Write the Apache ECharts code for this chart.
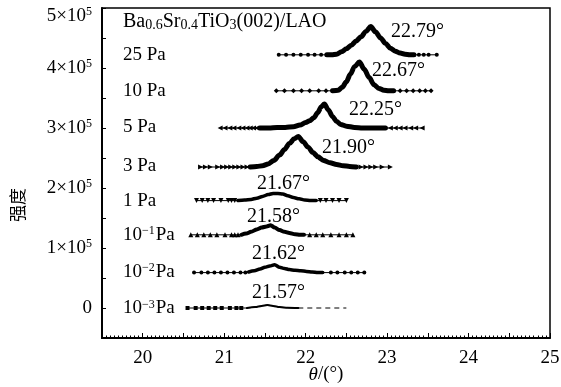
<!DOCTYPE html>
<html><head><meta charset="utf-8">
<script src="https://cdn.jsdelivr.net/npm/echarts/dist/echarts.min.js"></script>
<style>html,body{margin:0;padding:0;background:#fff}#c{width:561px;height:387px}</style>
</head><body><div id="c"></div><script>
// intensities in units of 1e5 (stacked with vertical offsets as drawn)
const x25 = [21.67,21.76,21.85,21.94,22.03,22.11,22.19,22.26,22.32,22.38,22.44,22.50,22.56,22.62,22.68,22.74,22.80,22.86,22.92,22.98,23.04,23.10,23.16,23.22,23.28,23.33,23.39,23.45,23.51,23.61];
const y25 = [4.22,4.22,4.22,4.22,4.22,4.22,4.22,4.22,4.22,4.23,4.27,4.32,4.38,4.45,4.52,4.61,4.69,4.60,4.50,4.41,4.33,4.28,4.25,4.23,4.22,4.22,4.22,4.22,4.22,4.22];
const x10 = [21.64,21.74,21.85,21.95,22.05,22.16,22.25,22.33,22.40,22.45,22.50,22.55,22.60,22.66,22.72,22.78,22.84,22.90,22.96,23.02,23.08,23.16,23.24,23.32,23.40,23.47,23.54];
const y10 = [3.62,3.62,3.62,3.62,3.62,3.62,3.62,3.62,3.63,3.68,3.77,3.90,4.02,4.10,3.98,3.84,3.72,3.66,3.63,3.62,3.62,3.62,3.62,3.62,3.62,3.62,3.62];
const x5 = [20.95,21.01,21.07,21.12,21.18,21.23,21.28,21.32,21.36,21.40,21.44,21.55,21.65,21.75,21.85,21.93,22.00,22.05,22.10,22.15,22.19,22.23,22.28,22.33,22.38,22.43,22.50,22.60,22.70,22.80,22.90,22.98,23.04,23.10,23.16,23.22,23.29,23.35,23.43];
const y5 = [3.0,3.0,3.0,3.0,3.0,3.0,3.0,3.0,3.0,3.0,3.0,3.0,3.01,3.01,3.02,3.05,3.09,3.12,3.17,3.26,3.35,3.40,3.30,3.19,3.11,3.06,3.03,3.01,3.0,3.0,3.0,3.0,3.0,3.0,3.0,3.0,3.0,3.0,3.0];
const x3 = [20.71,20.77,20.83,20.92,20.98,21.03,21.08,21.13,21.18,21.23,21.28,21.32,21.40,21.47,21.54,21.61,21.68,21.74,21.80,21.86,21.91,21.97,22.03,22.09,22.15,22.22,22.30,22.38,22.46,22.54,22.62,22.68,22.74,22.80,22.86,22.94,23.04];
const y3 = [2.35,2.35,2.35,2.35,2.35,2.35,2.35,2.35,2.35,2.35,2.35,2.35,2.36,2.37,2.40,2.46,2.55,2.64,2.74,2.82,2.86,2.77,2.68,2.59,2.52,2.46,2.42,2.39,2.37,2.36,2.35,2.35,2.35,2.35,2.35,2.35,2.35];
const x1 = [20.66,20.73,20.80,20.87,20.96,21.05,21.09,21.13,21.17,21.25,21.33,21.40,21.47,21.54,21.60,21.66,21.72,21.78,21.85,21.92,21.99,22.06,22.13,22.18,22.25,22.33,22.41,22.50];
const y1 = [1.79,1.79,1.79,1.79,1.79,1.79,1.79,1.79,1.79,1.80,1.81,1.83,1.86,1.89,1.91,1.91,1.90,1.87,1.84,1.82,1.80,1.79,1.79,1.79,1.79,1.79,1.79,1.79];
const xm1 = [20.59,20.67,20.75,20.83,20.91,21.01,21.09,21.13,21.17,21.21,21.27,21.33,21.40,21.46,21.52,21.57,21.62,21.68,21.74,21.80,21.87,21.93,21.98,22.05,22.13,22.21,22.31,22.41,22.50,22.58];
const ym1 = [1.22,1.22,1.22,1.22,1.22,1.22,1.22,1.22,1.22,1.22,1.24,1.27,1.31,1.34,1.36,1.38,1.34,1.30,1.27,1.25,1.23,1.22,1.22,1.22,1.22,1.22,1.22,1.22,1.22,1.22];
const xm2 = [20.63,20.72,20.80,20.88,20.96,21.04,21.12,21.20,21.26,21.30,21.37,21.44,21.50,21.56,21.62,21.68,21.74,21.80,21.87,21.94,22.01,22.08,22.15,22.21,22.31,22.39,22.48,22.56,22.64,22.72];
const ym2 = [0.59,0.59,0.59,0.59,0.59,0.59,0.59,0.59,0.59,0.60,0.62,0.65,0.68,0.70,0.72,0.68,0.66,0.64,0.63,0.62,0.61,0.60,0.59,0.59,0.59,0.59,0.59,0.59,0.59,0.59];
const xm3 = [20.55,20.65,20.73,20.81,20.89,20.97,21.07,21.15,21.21,21.28,21.38,21.46,21.53,21.60,21.68,21.78,21.91,22.50];
const ym3 = [0,0,0,0,0,0,0,0,0,0,0.015,0.035,0.05,0.035,0.015,0.005,0,0];
// x-range drawn as merged (dense) trace
const denseFrom = [22.26,22.33,21.44,21.32,21.17,21.21,21.30,21.28];
const denseTo   = [23.33,23.08,22.98,22.62,22.13,21.98,22.21,21.91];
const pressures = ['25 Pa','10 Pa','5 Pa','3 Pa','1 Pa','10{s|−1}Pa','10{s|−2}Pa','10{s|−3}Pa'];
const peakLabels = ['22.79°','22.67°','22.25°','21.90°','21.67°','21.58°','21.62°','21.57°'];
const yTicks = [0,1,2,3,4,5];

const xs = [x25,x10,x5,x3,x1,xm1,xm2,xm3];
const ys = [y25,y10,y5,y3,y1,ym1,ym2,ym3];
const sty = [
  {sym:'circle',rot:0,size:4,w:5},
  {sym:'diamond',rot:0,size:5,w:5},
  {sym:'triangle',rot:90,size:5,w:5},
  {sym:'triangle',rot:-90,size:5,w:5},
  {sym:'triangle',rot:180,size:5,w:3.5},
  {sym:'triangle',rot:0,size:5,w:4},
  {sym:'circle',rot:0,size:4,w:3.5},
  {sym:'rect',rot:0,size:4,w:2}
];
const labelPos = [[123,55.5],[123,91.5],[123,127],[123,166],[123,201],[123,235],[123,272],[123,308.5]];
const peakPos = [[391,32],[372,71],[349,110],[322,148],[257,184],[247,217],[252,254],[252,293]];
const FONT = '"Liberation Serif","Times New Roman",serif';
const TOP = yTicks[yTicks.length-1];

const series = [];
xs.forEach((xa,k)=>{
  const ya = ys[k], s = sty[k];
  const lo = denseFrom[k], hi = denseTo[k];
  const isLast = k === 7;
  const main = [], dense = [], dash = [];
  xa.forEach((x,i)=>{
    const inD = x >= lo && x <= hi;
    if (isLast && x >= hi) dash.push([x, ya[i]]);
    if (!(isLast && x > hi)) main.push({value:[x, ya[i]], symbol: inD ? 'none' : s.sym});
    if (inD) dense.push([x, ya[i]]);
  });
  series.push({type:'line', data:main, symbolSize:s.size, symbolRotate:s.rot, showAllSymbol:true,
    lineStyle:{color:'#000',width:1}, itemStyle:{color:'#000'}, silent:true, z:3});
  series.push({type:'line', data:dense, symbol:'none', smooth:0.3, smoothMonotone:'x',
    lineStyle:{color:'#000',width:s.w,cap:'round',join:'round'}, silent:true, z:4});
  if (dash.length) series.push({type:'line', data:dash, symbol:'none',
    lineStyle:{color:'#000',width:1,type:[5,4]}, silent:true, z:3});
});

const supRich = {s:{fontSize:12, fontFamily:FONT, verticalAlign:'top', padding:[0,0,8,0]}};
const graphic = [];
pressures.forEach((t,k)=>graphic.push({type:'text', x:labelPos[k][0], y:labelPos[k][1],
  style:{text:t, font:'19px '+FONT, fill:'#000', align:'left', verticalAlign:'middle',
    rich:{s:{fontSize:12, fontFamily:FONT, verticalAlign:'top', padding:[0,1,8,0]}}}}));
peakLabels.forEach((t,k)=>graphic.push({type:'text', x:peakPos[k][0], y:peakPos[k][1],
  style:{text:t, font:'20px '+FONT, fill:'#000', align:'left', verticalAlign:'middle'}}));
graphic.push({type:'text', x:123, y:22, style:{text:'Ba{b|0.6}Sr{b|0.4}TiO{b|3}(002)/LAO',
  font:'20px '+FONT, fill:'#000', align:'left', verticalAlign:'middle',
  rich:{b:{fontSize:14, fontFamily:FONT, verticalAlign:'bottom', padding:[6,0,0,0]}}}});
graphic.push({type:'text', x:18, y:205, rotation:Math.PI/2, style:{text:'强度',
  font:'17px "Noto Sans CJK SC"', fill:'#000', align:'center', verticalAlign:'middle'}});
// top tick label, nudged inside the canvas as in the reference
graphic.push({type:'text', x:92, y:16, style:{text:TOP+'×10{s|5}', font:'19px '+FONT, fill:'#000',
  align:'right', verticalAlign:'middle', rich:supRich}});

const chart = echarts.init(document.getElementById('c'), null, {renderer:'canvas'});
chart.setOption({
  animation:false,
  backgroundColor:'#fff',
  grid:{left:102, right:11, top:8, bottom:49, show:true, borderColor:'#000', borderWidth:1.5,
    containLabel:false, outerBoundsMode:'none'},
  xAxis:{type:'value', min:19.5, max:25, interval:0.5,
    name:'{i|θ}/(°)', nameLocation:'middle', nameGap:27, nameMoveOverlap:false,
    nameTextStyle:{fontFamily:FONT, fontSize:19, color:'#000', rich:{i:{fontStyle:'italic', fontFamily:FONT, fontSize:19}}},
    axisLine:{onZero:false, lineStyle:{color:'#000', width:2}},
    axisTick:{inside:true, length:5, lineStyle:{color:'#000'}},
    minorTick:{show:true, splitNumber:10, length:2.5, lineStyle:{color:'#000'}},
    splitLine:{show:false}, minorSplitLine:{show:false},
    axisLabel:{fontFamily:FONT, fontSize:19, color:'#000', margin:11,
      formatter:v=> Math.abs(v-Math.round(v))<1e-9 ? String(Math.round(v)) : ''}
  },
  yAxis:{type:'value', min:-0.5, max:5, interval:0.5,
    axisLine:{show:true, onZero:false, lineStyle:{color:'#000', width:2}},
    axisTick:{inside:true, length:4, lineStyle:{color:'#000'}},
    splitLine:{show:false},
    axisLabel:{fontFamily:FONT, fontSize:19, color:'#000', margin:10,
      formatter:v=>{ const r=Math.round(v); if (Math.abs(v-r)>1e-9 || !yTicks.includes(r) || r===TOP) return ''; return r===0?'0': r+'×10{s|5}'; },
      rich:supRich}
  },
  series, graphic
});
</script></body></html>
